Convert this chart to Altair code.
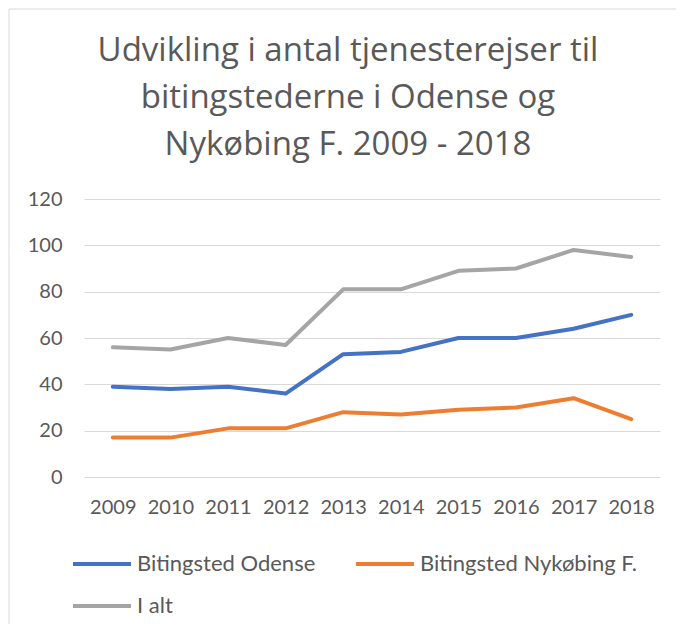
import altair as alt
import pandas as pd

years = ["2009", "2010", "2011", "2012", "2013", "2014", "2015", "2016", "2017", "2018"]
odense = [39, 38, 39, 36, 53, 54, 60, 60, 64, 70]
nykobing = [17, 17, 21, 21, 28, 27, 29, 30, 34, 25]
i_alt = [56, 55, 60, 57, 81, 81, 89, 90, 98, 95]

series_names = ["Bitingsted Odense", "Bitingsted Nykøbing F.", "I alt"]
series_colors = ["#4472C4", "#ED7D31", "#A5A5A5"]
title_lines = ["Udvikling i antal tjenesterejser til", "bitingstederne i Odense og", "Nykøbing F. 2009 - 2018"]

rows = []
for name, vals in zip(series_names, [odense, nykobing, i_alt]):
    for y, v in zip(years, vals):
        rows.append({"year": y, "value": v, "series": name})
df = pd.DataFrame(rows)

FONT = "Lato"
TFONT = "Open Sans"
TXT = "#595959"
W, H = 576, 278

lines = alt.Chart(df).mark_line(strokeWidth=4, strokeJoin="round", strokeCap="round").encode(
    x=alt.X("year:O", sort=years, scale=alt.Scale(type="point", padding=0.5),
            axis=alt.Axis(title=None, labelAngle=0, domain=False, ticks=False, tickSize=0,
                          labelPadding=20, labelFontSize=20, labelFont=FONT, labelColor=TXT, grid=False)),
    y=alt.Y("value:Q", scale=alt.Scale(domain=[0, 120], nice=False),
            axis=alt.Axis(title=None, values=[0, 20, 40, 60, 80, 100, 120], domain=False, ticks=False,
                          tickSize=0, labelPadding=22, labelFontSize=20, labelFont=FONT, labelColor=TXT,
                          grid=True, gridColor="#D9D9D9", gridWidth=1)),
    color=alt.Color("series:N", sort=series_names,
                    scale=alt.Scale(domain=series_names, range=series_colors),
                    legend=alt.Legend(title=None, orient="none", legendX=-13, legendY=334, columns=2,
                                      direction="horizontal",
                                      symbolType="stroke", symbolSize=3364, symbolStrokeWidth=4,
                                      labelFont=FONT, labelFontSize=22, labelColor=TXT, labelOffset=4,
                                      columnPadding=32, rowPadding=-9, padding=0, labelLimit=400)),
)

frame_src = alt.Data(values=[{"k": 1}])
left_border = alt.Chart(frame_src).mark_rule(color="#D9D9D9", strokeWidth=1).encode(
    x=alt.value(-75), y=alt.value(-190), y2=alt.value(H + 200))
top_border = alt.Chart(frame_src).mark_rule(color="#D9D9D9", strokeWidth=1).encode(
    x=alt.value(-75), x2=alt.value(W + 100), y=alt.value(-190))

chart = alt.layer(left_border, top_border, lines).properties(
    width=W, height=H,
    background="white",
    autosize=alt.AutoSizeParams(type="none"),
    padding={"left": 76, "top": 191, "right": 16, "bottom": 147},
    title=alt.TitleParams(text=title_lines, anchor="middle", dx=-24, dy=153, fontSize=33, font=TFONT,
                          fontWeight="normal", color=TXT, lineHeight=47, offset=0),
).configure_view(stroke=None)

chart.save("out.html", embed_options={"renderer": "svg", "actions": False})
